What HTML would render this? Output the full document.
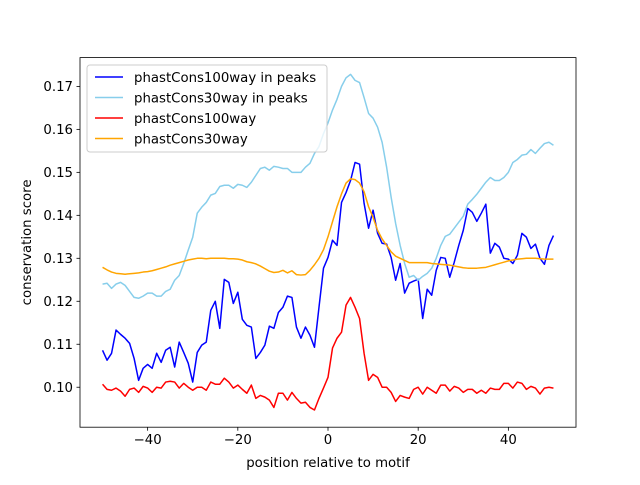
<!DOCTYPE html>
<html><head><meta charset="utf-8"><style>
body{margin:0;background:#fff;}
svg text{font-family:"DejaVu Sans","Liberation Sans",sans-serif;fill:#000;}
</style></head><body>
<svg id="chart" width="640" height="480" xmlns="http://www.w3.org/2000/svg">
<rect width="640" height="480" fill="#fff"/>
<g id="plot"></g>
</svg>
<script>
const positions = [];
for (let i = -50; i <= 50; i++) positions.push(i);
const blueVals = [.1086,.1063,.1079,.1133,.1123,.1114,.1102,.1067,.1016,.1044,.1053,.1044,.1079,.1058,.1086,.1093,.1047,.1105,.1081,.1056,.1012,.1081,.1098,.1105,.1179,.1200,.1137,.1251,.1244,.1195,.1221,.1158,.1144,.1140,.1067,.1081,.1098,.1142,.1137,.1174,.1186,.1212,.1209,.1140,.1114,.1140,.1121,.1093,.1186,.1277,.1302,.1342,.1330,.1430,.1453,.1481,.1523,.1519,.1428,.1370,.1412,.1358,.1335,.1333,.1302,.1249,.1288,.1219,.1242,.1247,.1251,.1160,.1228,.1214,.1272,.1302,.1300,.1256,.1291,.1330,.1365,.1416,.1407,.1386,.1405,.1426,.1312,.1335,.1326,.1300,.1298,.1288,.1307,.1358,.1349,.1323,.1333,.1300,.1286,.1330,.1353];
const lightVals = [.1240,.1242,.1230,.1240,.1244,.1237,.1223,.1209,.1207,.1212,.1219,.1219,.1212,.1212,.1223,.1228,.1249,.1260,.1288,.1319,.1349,.1405,.1419,.1430,.1447,.1451,.1467,.1470,.1470,.1463,.1472,.1470,.1465,.1477,.1493,.1509,.1512,.1505,.1514,.1512,.1509,.1509,.1500,.1500,.1500,.1512,.1521,.1544,.1560,.1590,.1615,.1645,.1670,.1700,.1720,.1728,.1714,.1709,.1674,.1637,.1626,.1605,.1570,.1512,.1442,.1381,.1330,.1288,.1256,.1260,.1249,.1258,.1265,.1277,.1300,.1330,.1351,.1356,.1370,.1384,.1398,.1426,.1437,.1449,.1463,.1477,.1488,.1481,.1481,.1488,.1500,.1523,.1530,.1540,.1542,.1553,.1544,.1556,.1567,.1570,.1563];
const redVals = [.1007,.0995,.0993,.0998,.0991,.0979,.0995,.0998,.0988,.1002,.0998,.0988,.1000,.0998,.1012,.1014,.1012,.0998,.1009,.1000,.0993,.1000,.1000,.0993,.1012,.1007,.1007,.1021,.1012,.0998,.1005,.0995,.0986,.1005,.0974,.0981,.0977,.0970,.0953,.0986,.0986,.0970,.0988,.0974,.0963,.0965,.0953,.0947,.0974,.0998,.1023,.1091,.1114,.1128,.1191,.1209,.1186,.1160,.1079,.1016,.1030,.1023,.1000,.1000,.0988,.0967,.0981,.0977,.0974,.0995,.1000,.0984,.1000,.0993,.0986,.1005,.1005,.0991,.1002,.0998,.0988,.0995,.0995,.0986,.0993,.0986,.0998,.0995,.0995,.1009,.1009,.0998,.1012,.1009,.0995,.1002,.0998,.0984,.0998,.1000,.0998];
const orangeVals = [.1279,.1273,.1268,.1265,.1264,.1263,.1264,.1265,.1266,.1268,.1269,.1271,.1274,.1277,.1280,.1284,.1287,.1290,.1293,.1296,.1298,.1300,.1300,.1299,.1300,.1300,.1300,.1300,.1299,.1299,.1298,.1296,.1292,.1290,.1287,.1282,.1276,.1270,.1267,.1268,.1272,.1266,.1271,.1262,.1261,.1262,.1272,.1285,.1300,.1320,.1350,.1385,.1420,.1450,.1475,.1485,.1483,.1475,.1455,.1420,.1395,.1365,.1345,.1330,.1315,.1305,.1300,.1295,.1290,.1290,.1290,.1290,.1290,.1288,.1287,.1286,.1285,.1284,.1282,.1280,.1278,.1277,.1277,.1277,.1278,.1279,.1282,.1285,.1288,.1291,.1294,.1296,.1298,.1299,.1300,.1300,.1300,.1299,.1298,.1298,.1298];
const xTicks = [-40,-20,0,20,40];
const yTicks = [0.10,0.11,0.12,0.13,0.14,0.15,0.16,0.17];
const seriesNames = ["phastCons100way in peaks","phastCons30way in peaks","phastCons100way","phastCons30way"];
const seriesColors = ["#0000ff","#87ceeb","#ff0000","#ffa500"];

const L=80,R=576,T=57.6,B=427.2;
const xMin=-55,xMax=55,yMin=0.0907,yMax=0.1767;
const sx=v=>L+(v-xMin)/(xMax-xMin)*(R-L);
const sy=v=>B-(v-yMin)/(yMax-yMin)*(B-T);
const NS="http://www.w3.org/2000/svg";
const g=document.getElementById('plot');
function mk(tag,attrs,parent){const e=document.createElementNS(NS,tag);for(const k in attrs)e.setAttribute(k,attrs[k]);(parent||g).appendChild(e);return e;}

const seriesData=[blueVals,lightVals,redVals,orangeVals];
const keys=["blue-line-100way-peaks","lightblue-line-30way-peaks","red-line-100way","orange-line-30way"];
seriesData.forEach((vals,si)=>{
  const d=vals.map((v,i)=>(i?'L':'M')+sx(positions[i]).toFixed(2)+','+sy(v).toFixed(2)).join(' ');
  const p=mk('path',{d:d,fill:'none',stroke:seriesColors[si],'stroke-width':1.5,'stroke-linejoin':'round'});
  
  
});

const frame=mk('rect',{x:L,y:T,width:R-L,height:B-T,fill:'none',stroke:'#000','stroke-width':0.8});



xTicks.forEach(t=>{
  const x=sx(t);
  const tk=mk('line',{x1:x,x2:x,y1:B,y2:B+3.5,stroke:'#000','stroke-width':0.8});
  
  
  const tx=mk('text',{x:x,y:B+17,'text-anchor':'middle','font-size':'13.3px'});
  tx.textContent=(t<0?'\u2212'+Math.abs(t):String(t));
  
  
});
yTicks.forEach(t=>{
  const y=sy(t);
  const tk=mk('line',{x1:L-3.5,x2:L,y1:y,y2:y,stroke:'#000','stroke-width':0.8});
  
  
  const tx=mk('text',{x:L-7,y:y+4.8,'text-anchor':'end','font-size':'13.3px'});
  tx.textContent=t.toFixed(2);
  
  
});
const xl=mk('text',{x:(L+R)/2,y:467,'text-anchor':'middle','font-size':'13.3px'});
xl.textContent='position relative to motif';


const yl=mk('text',{x:0,y:0,'text-anchor':'middle','font-size':'13.3px',transform:'translate(31,'+((T+B)/2)+') rotate(-90)'});
yl.textContent='conservation score';



const lg=mk('g',{});


mk('rect',{x:87,y:65,width:240,height:87,rx:3,fill:'#fff','fill-opacity':0.8,stroke:'#ccc','stroke-width':1},lg);
seriesNames.forEach((n,i)=>{
  const y=77+i*20.5;
  const ln=mk('line',{x1:95,x2:123,y1:y,y2:y,stroke:seriesColors[i],'stroke-width':1.5},lg);
  
  
  const tx=mk('text',{x:134,y:y+4.8,'font-size':'13.3px'},lg);
  tx.textContent=n;
  
  
});
</script>
</body></html>
